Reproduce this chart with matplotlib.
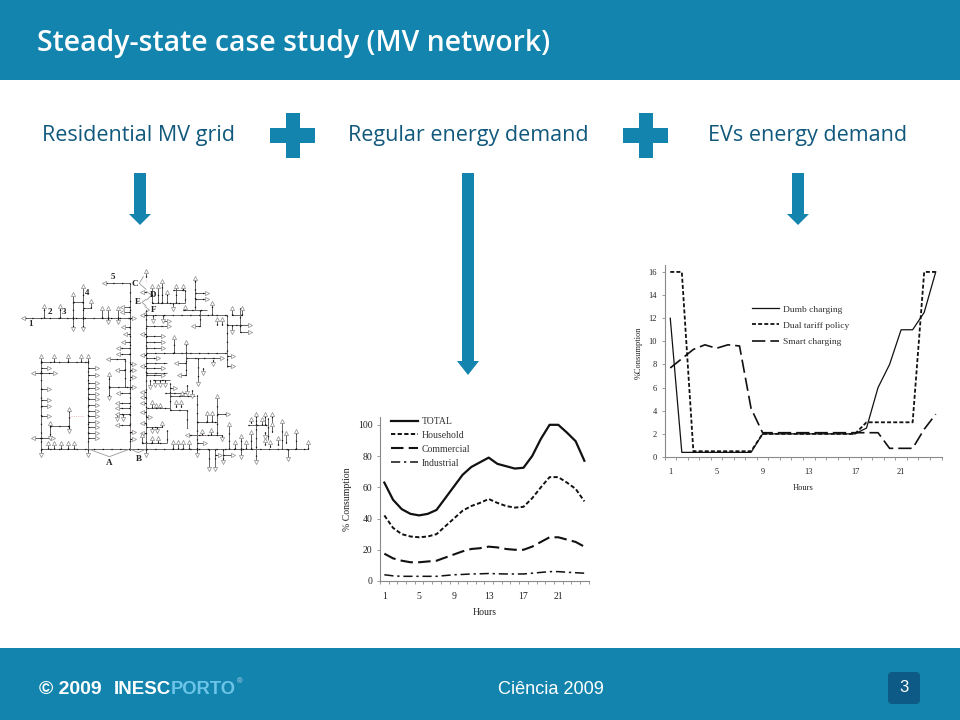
import matplotlib
matplotlib.use("Agg")
import matplotlib.pyplot as plt
from matplotlib.patches import Rectangle, FancyBboxPatch, Polygon
from matplotlib.ticker import FixedLocator, NullFormatter

HOURS = list(range(1, 25))
TOTAL = [63,52,46,43,42,43,45.5,53,60.5,68,73,76,79,75,73.5,72,72.5,80,91,100,100,95,89.5,77]
HOUSEHOLD = [42,34,30,28.5,28,28.5,30,35,40,45,48,50,52.5,50,48,47,47.5,53,60,66.5,66.5,63,59,51]
COMMERCIAL = [17.5,14.5,13,12,12,12.5,13,15,17,19,20.5,21,22,21.5,20.5,20,20,22,25,28,28,26.5,25,22]
INDUSTRIAL = [4,3.3,3,3,3,3,3,3.5,4,4.2,4.5,4.6,4.8,4.6,4.5,4.5,4.5,5,5.5,6,6,5.6,5.3,5]
DUMB = [12,.4,.4,.4,.4,.4,.4,.4,2,2,2,2,2,2,2,2,2,2.5,6,8,11,11,12.5,16]
DUAL = [16,16,.5,.5,.5,.5,.5,.5,2,2,2,2,2,2,2,2,2,3,3,3,3,3,16,16]
SMART = [7.7,8.5,9.3,9.7,9.4,9.7,9.6,4.2,2.1,2.1,2.1,2.1,2.1,2.1,2.1,2.1,2.1,2.1,2.1,.75,.75,.75,2.4,3.7]
HOUR_LABELS = [1,5,9,13,17,21]

# One-line network: trunk lines, then stubs ending in a load symbol
NET_TRUNKS = [(40,173,360,173),(283,68,360,68),(360,68,360,570),(408,150,408,570),(92,567,895,567),
 (92,305,92,567),(92,305,235,305),(235,305,235,567),(408,165,650,165),(650,165,650,320),(408,278,650,278),
 (190,125,218,125),(218,145,242,145),(298,380,360,380),(345,300,345,380),(120,498,176,498),(176,445,176,510),
 (528,295,610,295),(528,250,528,345),(565,295,565,370),(480,408,555,408),(480,370,480,450),(480,450,530,450),
 (530,450,530,505),(560,405,560,567),(560,485,620,485),(620,410,620,525),(540,525,635,525),(395,548,470,548),
 (408,500,455,500),(470,510,470,548),(738,480,738,605),(715,495,770,495),(775,475,775,540),(815,485,815,567),
 (598,567,598,625),(615,567,615,625),(640,567,640,605),(425,130,525,130),(525,90,525,130),(490,90,525,90),
 (555,60,555,150),(520,150,590,150),(570,150,570,197),(650,195,690,195),(690,145,690,215),(665,165,695,165),
 (430,360,480,360),(465,400,530,400),(410,445,480,445),(408,310,470,310),(408,338,470,338)]
NET_LOADS = [(103,173,103,137),(150,173,150,137),(190,173,190,103),(190,173,190,208),(218,173,218,78),(218,173,218,208),
 (242,145,242,122),(275,173,275,145),(295,173,295,145),(295,173,295,186),(323,173,323,145),(323,173,323,186),(360,173,372,173),
 (290,68,283,68),(47,173,40,173),(360,140,335,140),(360,157,335,157),(360,200,338,200),(360,222,345,222),(360,246,338,246),
 (360,265,325,265),(360,283,325,283),(345,298,293,298),(345,330,320,330),(360,313,372,313),(360,330,372,330),(360,352,372,352),
 (360,380,372,380),(298,380,298,342),(298,380,298,415),(360,398,325,398),(360,428,320,428),(360,445,320,445),(360,462,320,462),
 (320,462,320,478),(338,462,338,478),(360,495,320,495),(360,517,372,517),(360,537,372,537),
 (92,305,92,288),(132,305,132,288),(173,305,173,288),(213,305,213,288),(235,305,235,288),(92,323,118,323),(92,340,70,340),
 (92,340,135,340),(92,388,118,388),(92,420,118,420),(92,437,118,437),(92,468,118,468),(92,533,70,533),(92,533,130,533),
 (120,498,120,488),(120,498,120,533),(176,455,176,447),(176,500,176,512),(92,567,92,585),
 (235,323,260,323),(235,345,260,345),(235,370,260,370),(235,385,260,385),(235,402,260,402),(235,418,260,418),(235,435,260,435),
 (235,452,260,452),(235,468,260,468),(235,485,260,485),(235,502,260,502),(235,518,260,518),(235,533,260,533),
 (113,567,113,550),(133,567,133,550),(153,567,153,550),(173,567,173,550),(193,567,193,550),(235,567,235,585),
 (408,50,408,32),(408,95,395,95),(425,130,425,78),(445,130,445,78),(456,130,456,62),(472,130,472,95),(497,130,497,78),(520,90,520,78),
 (555,100,590,100),(555,118,590,118),(555,65,555,54),(605,165,605,128),(525,150,525,140),(490,130,490,148),(570,197,548,197),
 (408,165,395,165),(428,165,428,183),(460,165,460,183),(460,183,478,183),(620,195,620,178),(635,195,635,178),(667,165,667,145),
 (695,165,695,145),(690,195,720,195),(690,215,720,215),(667,195,667,215),(650,288,670,288),(650,318,670,318),
 (408,198,478,198),(408,222,395,222),(408,228,458,228),(408,246,458,246),(408,263,458,263),(492,278,492,232),(528,255,528,245),
 (408,295,445,295),(408,285,395,285),(408,318,395,318),(408,325,458,325),(408,345,458,345),(528,345,508,345),(528,310,498,310),
 (610,295,635,295),(610,300,610,312),(565,365,565,372),(580,325,580,340),(420,360,420,380),(435,360,435,375),(450,360,450,375),
 (465,360,465,375),(480,385,495,385),(515,405,515,398),(530,375,530,400),(545,390,545,408),(408,395,395,395),
 (408,410,395,410),(408,430,395,430),(408,455,395,455),(408,470,420,470),(425,445,425,425),(438,445,438,435),(450,445,450,435),
 (497,440,497,425),(513,440,513,425),(408,490,395,490),(408,520,395,520),(425,500,425,512),(440,500,440,512),(455,500,455,488),
 (425,548,425,535),(445,548,445,535),(395,548,395,525),(408,567,408,585),(488,567,488,545),(505,567,505,545),(520,567,520,545),
 (537,567,537,545),(560,548,585,548),(560,567,560,585),(540,525,532,525),(635,525,635,537),
 (590,485,590,458),(605,485,605,458),(620,415,620,408),(620,463,655,463),(575,525,575,512),(603,525,603,510),
 (598,620,598,627),(615,620,615,627),(615,585,630,585),(640,585,668,585),(640,600,640,607),
 (658,567,658,492),(675,567,675,545),(692,567,692,528),(692,567,692,590),(708,567,708,545),(722,567,722,515),(738,600,738,607),
 (722,490,722,478),(738,495,738,463),(765,495,765,463),(787,495,787,463),(755,495,755,478),(787,515,787,492),(765,515,765,530),
 (765,555,765,540),(780,560,780,545),(805,555,805,533),(828,550,828,520),(815,490,815,482),(857,567,857,512),(895,567,895,545),
 (835,567,835,597)]
NET_RED = [(176,467,222,467),(408,50,408,65),(360,505,360,512),(568,525,590,525)]
NET_LEADERS = [(235,567,298,590,360,567),(360,567,385,578,408,567),(400,50,388,70,408,88),(410,95,425,105,410,120),
               (408,118,396,127,408,138),(405,140,418,150,405,160)]
NET_LABELS = [("1",62,193),("2",120,155),("3",163,155),("4",231,100),("5",310,52),("C",375,72),("D",430,105),
              ("E",384,125),("F",432,150),("A",298,610),("B",386,598)]
NET_RED_COLOR = "#e0a0a0"

TEAL = "#1384AD"
SUB = "#11597C"
fig = plt.figure(figsize=(9.6, 7.2), dpi=100, facecolor="white")

# Pixel-coordinate page layer
page = fig.add_axes([0, 0, 1, 1])
page.set_xlim(0, 960); page.set_ylim(720, 0); page.axis("off")
page.add_patch(Rectangle((0, 0), 960, 80, color=TEAL, lw=0))
page.add_patch(Rectangle((0, 648), 960, 72, color=TEAL, lw=0))
page.text(37, 44, "Steady-state case study (MV network)", color="white", fontsize=20.4,
          family="Open Sans", weight="semibold", va="center")
for label, x in [("Residential MV grid", 138), ("Regular energy demand", 468), ("EVs energy demand", 808)]:
    page.text(x, 135, label, color=SUB, fontsize=15.5, family="Open Sans", ha="center", va="center")
for cx in (292.5, 645.5):
    page.add_patch(Rectangle((cx - 22.5, 128), 45, 15, color=TEAL, lw=0))
    page.add_patch(Rectangle((cx - 7, 113), 14, 45, color=TEAL, lw=0))
for cx, y0, y1, y2 in [(140, 173, 214, 225), (468, 173, 361, 375), (798, 173, 214, 225)]:
    page.add_patch(Polygon([(cx-6, y0), (cx+6, y0), (cx+6, y1), (cx+11, y1), (cx, y2),
                            (cx-11, y1), (cx-6, y1)], closed=True, color=TEAL, lw=0))
page.text(39, 690, "\u00a9 2009", color="white", fontsize=14, family="Liberation Sans", weight="bold", va="center")
page.text(114, 690, "INESC", color="white", fontsize=13.5, family="Liberation Sans", weight="bold", va="center")
page.text(171, 690, "PORTO", color="#6CC5E8", fontsize=13.2, family="Liberation Sans", weight="bold", va="center")
page.text(237, 682, "\u00ae", color="#BFE3F0", fontsize=5.5, family="Liberation Sans", va="center")
page.text(551, 689, "Ci\u00eancia 2009", color="white", fontsize=13.1, family="Liberation Sans", ha="center", va="center")
page.add_patch(FancyBboxPatch((892, 676), 24, 24, boxstyle="round,pad=4,rounding_size=4", color="#0C5A85", lw=0))
page.text(904, 688, "3", color="white", fontsize=12, family="Liberation Sans", ha="center", va="center")

# Network diagram
def box(l, t, r, b):
    return [l/960, 1-b/720, (r-l)/960, (b-t)/720]
net = fig.add_axes(box(10, 260, 320, 480))
net.set_xlim(0, 930); net.set_ylim(660, 0); net.axis("off")
for x0, y0, x1, y1 in NET_TRUNKS:
    net.plot([x0, x1], [y0, y1], color="#666666", lw=0.7, solid_capstyle="butt", zorder=2)
    net.plot([x0, x1], [y0, y1], color="#111111", lw=0.9, dashes=(1, 6), zorder=3)
for x0, y0, x1, y1 in NET_LOADS:
    net.plot([x0, x1], [y0, y1], color="#444444", lw=0.6, zorder=2)
    net.plot([x0, x1], [y0, y1], color="#111111", lw=0.9, dashes=(1, 5), zorder=3)
    if abs(x1 - x0) > abs(y1 - y0):
        mark = ">" if x1 > x0 else "<"
    else:
        mark = "^" if y1 < y0 else "v"
    net.plot([x1], [y1], ls="", marker=mark, ms=3.0, mfc="white", mec="#8c8c8c", mew=0.5, zorder=4)
for x0, y0, x1, y1 in NET_RED:
    net.plot([x0, x1], [y0, y1], color=NET_RED_COLOR, lw=0.6, ls=":")
for x0, y0, x1, y1, x2, y2 in NET_LEADERS:
    net.plot([x0, x1, x2], [y0, y1, y2], color="#999999", lw=0.6)
for s, x, y in NET_LABELS:
    net.text(x, y, s, fontsize=6.5, family="Liberation Serif", weight="bold", ha="center", va="center", color="#222222")

def style(ax, yticks, ylabel, fs, xpad):
    ax.set_xlim(0.5, 24.5)
    for s in ("top", "right"):
        ax.spines[s].set_visible(False)
    for s in ("left", "bottom"):
        ax.spines[s].set_color("#8a8a8a"); ax.spines[s].set_linewidth(0.8)
    ax.set_yticks(yticks)
    ax.xaxis.set_major_locator(FixedLocator(HOUR_LABELS))
    ax.set_xticklabels([str(h) for h in HOUR_LABELS])
    ax.xaxis.set_minor_locator(FixedLocator([h + 0.5 for h in range(0, 25)]))
    ax.xaxis.set_minor_formatter(NullFormatter())
    ax.tick_params(axis="x", which="major", length=0, labelsize=fs, pad=xpad, labelcolor="#222222")
    ax.tick_params(axis="x", which="minor", length=2.5, width=0.6, color="#8a8a8a")
    ax.tick_params(axis="y", length=2.5, width=0.6, color="#8a8a8a", labelsize=fs, pad=3, labelcolor="#222222")
    ax.patch.set_alpha(0)
    for l in ax.get_xticklabels() + ax.get_yticklabels():
        l.set_family("Liberation Serif")
    ax.set_xlabel("Hours", family="Liberation Serif", fontsize=fs, color="#222222")
    ax.set_ylabel(ylabel, family="Liberation Serif", fontsize=fs, color="#222222")

# Regular demand chart
a1 = fig.add_axes(box(380, 417, 588.7, 581))
a1.set_ylim(0, 105)
a1.plot(HOURS, TOTAL, color="#111111", lw=1.6, label="TOTAL")
a1.plot(HOURS, HOUSEHOLD, color="#111111", lw=1.4, dashes=(2.2, 1.2), label="Household")
a1.plot(HOURS, COMMERCIAL, color="#111111", lw=1.5, dashes=(6, 2.5), label="Commercial")
a1.plot(HOURS, INDUSTRIAL, color="#111111", lw=1.1, dashes=(6, 2.5, 1.5, 2.5), label="Industrial")
style(a1, [0, 20, 40, 60, 80, 100], "% Consumption", 7, 8)
a1.xaxis.set_label_coords((485-380)/208.7, -(608-581)/164, transform=a1.transAxes)
a1.yaxis.set_label_coords((352-380)/208.7, (581-499)/164, transform=a1.transAxes)
a1.legend(loc="upper left", bbox_to_anchor=(391/960, 1-417/720), bbox_transform=fig.transFigure, frameon=False,
          prop={"family": "Liberation Serif", "size": 7}, labelspacing=0.5, handlelength=2.8, handletextpad=0.35,
          borderpad=0, borderaxespad=0, labelcolor="#333333")

# EV demand chart
a2 = fig.add_axes(box(664.5, 265, 941.5, 457))
a2.set_ylim(0, 16.6)
a2.plot(HOURS, DUMB, color="#111111", lw=0.9, label="Dumb charging")
a2.plot(HOURS, DUAL, color="#111111", lw=1.3, dashes=(2.2, 1.2), label="Dual tariff policy")
a2.plot(HOURS, SMART, color="#111111", lw=1.2, dashes=(8, 3), label="Smart charging")
style(a2, list(range(0, 17, 2)), "%Consumption", 6, 8)
a2.xaxis.set_label_coords((803-664.5)/277, -(484-457)/192, transform=a2.transAxes)
a2.yaxis.set_label_coords((643-664.5)/277, (457-353)/192, transform=a2.transAxes)
a2.legend(loc="upper left", bbox_to_anchor=(752/960, 1-305/720), bbox_transform=fig.transFigure, frameon=False,
          prop={"family": "Liberation Serif", "size": 6.8}, labelspacing=0.8, handlelength=2.9, handletextpad=0.35,
          borderpad=0, borderaxespad=0, labelcolor="#333333")

fig.savefig("out.png", dpi=100)
